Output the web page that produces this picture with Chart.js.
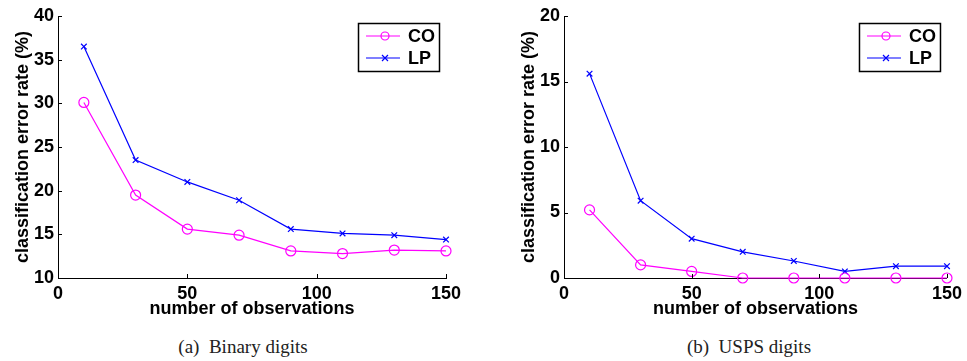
<!DOCTYPE html>
<html>
<head>
<meta charset="utf-8">
<script src="https://cdn.jsdelivr.net/npm/chart.js@4.4.1/dist/chart.umd.min.js"></script>
<style>
  body { margin: 0; background: #fff; width: 967px; height: 361px; overflow: hidden; position: relative; }
  .panel { position: absolute; top: 0; height: 320px; }
  .caption { position: absolute; top: 336px; font-family: "Liberation Serif", serif; font-size: 19px; color: #222; white-space: pre; transform: translateX(-50%); }
</style>
</head>
<body>
<div class="panel" style="left:0;width:487px"><canvas id="binaryChart"></canvas></div>
<div class="panel" style="left:487px;width:480px"><canvas id="uspsChart"></canvas></div>
<div class="caption" style="left:243px">(a)  Binary digits</div>
<div class="caption" style="left:749px">(b)  USPS digits</div>
<script>
// Observations on the x axis
const nObs = [10, 30, 50, 70, 90, 110, 130, 150];

// Binary digits error rates (%)
const binaryCO = [30.1, 19.5, 15.6, 14.9, 13.1, 12.8, 13.2, 13.1];
const binaryLP = [36.5, 23.5, 21.0, 18.9, 15.6, 15.1, 14.9, 14.4];

// USPS digits error rates (%)
const uspsCO = [5.2, 1.0, 0.5, 0.0, 0.0, 0.0, 0.0, 0.0];
const uspsLP = [15.6, 5.9, 3.0, 2.0, 1.3, 0.5, 0.9, 0.9];

const seriesNames = ['CO', 'LP'];
const xTitle = 'number of observations';
const yTitle = 'classification error rate (%)';

const FONT = '"Liberation Sans", Arial, sans-serif';

// MATLAB style: tick marks pointing inward
const inwardTicks = {
    id: 'inwardTicks',
    afterDraw(chart) {
        const ctx = chart.ctx;
        const { x, y } = chart.scales;
        const area = chart.chartArea;
        ctx.save();
        ctx.strokeStyle = '#000';
        ctx.lineWidth = 1;
        ctx.beginPath();
        x.ticks.forEach(t => {
            const px = Math.round(x.getPixelForValue(t.value)) + 0.5;
            ctx.moveTo(px, area.bottom);
            ctx.lineTo(px, area.bottom - 4);
        });
        y.ticks.forEach(t => {
            const py = Math.round(y.getPixelForValue(t.value)) + 0.5;
            ctx.moveTo(area.left, py);
            ctx.lineTo(area.left + 4, py);
        });
        ctx.stroke();
        ctx.restore();
    }
};

// Boxed legend inside the top-right corner of the plot area
const boxLegend = {
    id: 'boxLegend',
    afterDraw(chart) {
        const ctx = chart.ctx;
        const area = chart.chartArea;
        const w = 81, h = 48;
        const bx = area.right - 7 - w;
        const by = area.top + 7;
        ctx.save();
        ctx.fillStyle = '#fff';
        ctx.fillRect(bx, by, w, h);
        ctx.strokeStyle = '#000';
        ctx.lineWidth = 1.5;
        ctx.strokeRect(bx + 0.5, by + 0.5, w, h);
        chart.data.datasets.forEach((ds, i) => {
            const ry = by + 13 + i * 22;
            ctx.strokeStyle = ds.borderColor;
            ctx.lineWidth = 1.2;
            ctx.beginPath();
            ctx.moveTo(bx + 8, ry);
            ctx.lineTo(bx + 42, ry);
            ctx.stroke();
            const cx = bx + 27;
            ctx.beginPath();
            if (ds.pointStyle === 'circle') {
                ctx.arc(cx, ry, 4, 0, Math.PI * 2);
            } else {
                ctx.moveTo(cx - 3, ry - 3); ctx.lineTo(cx + 3, ry + 3);
                ctx.moveTo(cx + 3, ry - 3); ctx.lineTo(cx - 3, ry + 3);
            }
            ctx.stroke();
            ctx.fillStyle = '#000';
            ctx.font = 'bold 18px ' + FONT;
            ctx.textBaseline = 'middle';
            ctx.fillText(ds.label, bx + 50, ry + 1);
        });
        ctx.restore();
    }
};

function makeChart(id, coData, lpData, yMax, yMin, padLeft, padRight) {
    const el = document.getElementById(id);
    return new Chart(el, {
        type: 'line',
        data: {
            datasets: [
                {
                    label: seriesNames[0],
                    data: nObs.map((v, i) => ({ x: v, y: coData[i] })),
                    borderColor: '#ff00ff',
                    backgroundColor: 'rgba(0,0,0,0)',
                    borderWidth: 1.2,
                    pointStyle: 'circle',
                    pointRadius: 5,
                    pointBorderWidth: 1.2,
                    tension: 0,
                    clip: false
                },
                {
                    label: seriesNames[1],
                    data: nObs.map((v, i) => ({ x: v, y: lpData[i] })),
                    borderColor: '#0000ff',
                    backgroundColor: 'rgba(0,0,0,0)',
                    borderWidth: 1.2,
                    pointStyle: 'crossRot',
                    pointRadius: 4,
                    pointBorderWidth: 1.2,
                    tension: 0,
                    clip: false
                }
            ]
        },
        options: {
            responsive: true,
            maintainAspectRatio: false,
            animation: false,
            devicePixelRatio: 1,
            layout: { padding: { top: 16, right: padRight, left: padLeft, bottom: 0 } },
            plugins: {
                legend: { display: false },
                tooltip: { enabled: false }
            },
            scales: {
                x: {
                    type: 'linear',
                    min: 0,
                    max: 150,
                    ticks: { stepSize: 50, color: '#000', padding: 5, font: { family: FONT, size: 18, weight: 'bold' } },
                    grid: { drawOnChartArea: false, drawTicks: false },
                    border: { display: true, color: '#000', width: 1 },
                    title: { display: true, text: xTitle, color: '#000', padding: { top: 0, bottom: 0 }, font: { family: FONT, size: 18, weight: 'bold' } },
                    afterFit: s => { s.height = 42; }
                },
                y: {
                    min: yMin,
                    max: yMax,
                    ticks: { stepSize: 5, color: '#000', padding: 4, font: { family: FONT, size: 18, weight: 'bold' } },
                    grid: { drawOnChartArea: false, drawTicks: false },
                    border: { display: true, color: '#000', width: 1 },
                    title: { display: true, text: yTitle, color: '#000', padding: { top: 0, bottom: 0 }, font: { family: FONT, size: 18, weight: 'bold' } },
                    afterFit: s => { s.width = 46; }
                }
            }
        },
        plugins: [inwardTicks, boxLegend]
    });
}

makeChart('binaryChart', binaryCO, binaryLP, 40, 10, 12, 41);
makeChart('uspsChart', uspsCO, uspsLP, 20, 0, 31, 15);
</script>
</body>
</html>
